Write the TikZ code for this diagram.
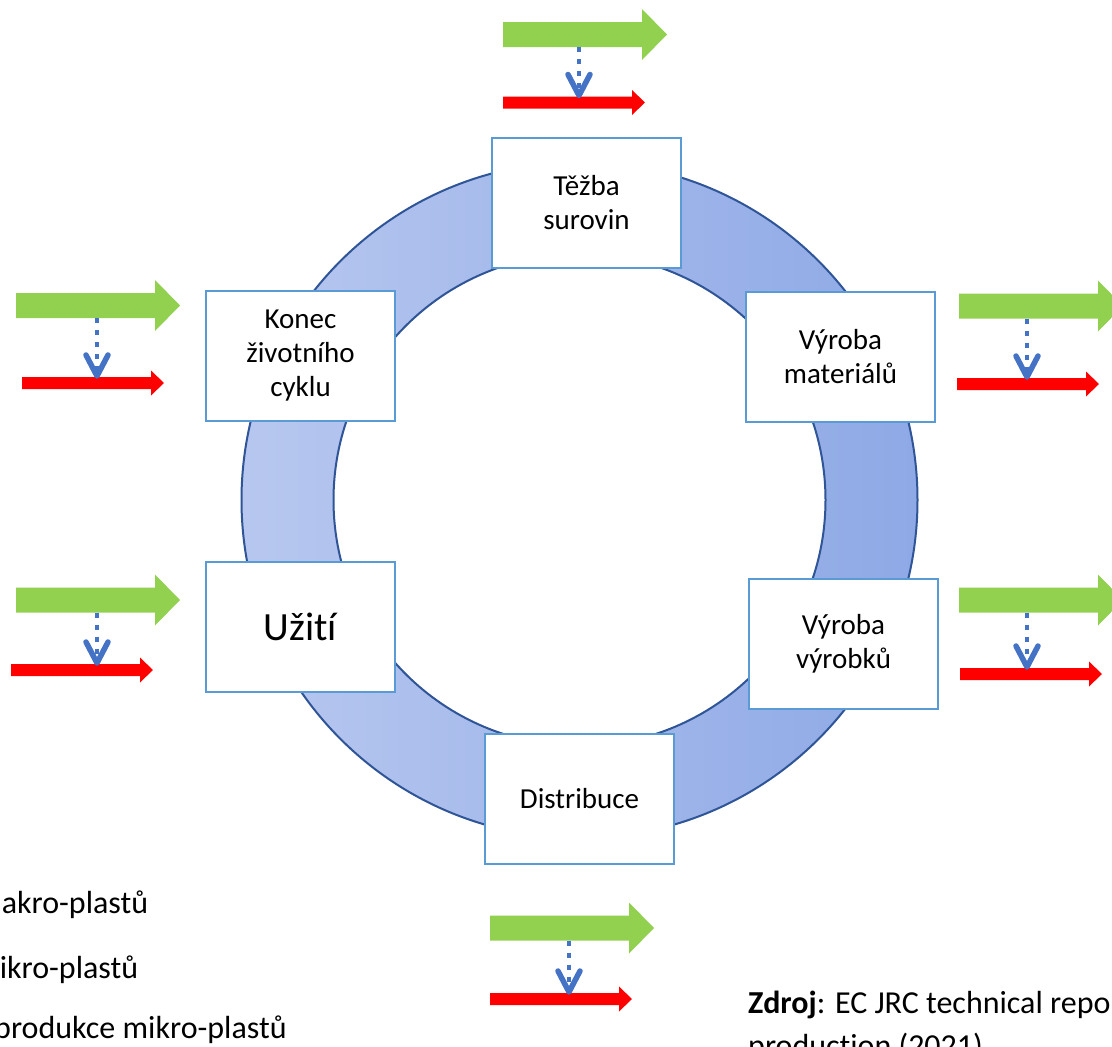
\documentclass[tikz,border=0pt]{standalone}
\usepackage{fontspec}
\setmainfont{Carlito}[Ligatures={NoCommon}]
\definecolor{ringL}{HTML}{B7C7EF}
\definecolor{ringR}{HTML}{8EA9E6}
\definecolor{ringB}{HTML}{2F5597}
\definecolor{boxB}{HTML}{5B9BD5}
\definecolor{grn}{HTML}{92D050}
\definecolor{rd}{HTML}{FF0000}
\definecolor{blu}{HTML}{4472C4}
\tikzset{
  stagebox/.style={draw=boxB, line width=2pt, fill=white, inner sep=0pt,
    minimum width=189pt, minimum height=130pt, align=center,
    font=\fontsize{29}{34}\selectfont},
  bluedot/.style={draw=blu, line width=4.5pt, dash pattern=on 5pt off 7pt},
  bluehead/.style={draw=blu, line width=5.5pt, line cap=round, line join=round},
  txt/.style={inner sep=0pt, anchor=base west, font=\fontsize{32}{38}\selectfont}
}
\newcommand\leakgroup[5]{%
  \fill[grn] (#1,#2-12.5) -- (#1+139,#2-12.5) -- (#1+139,#2-25.5) -- (#1+164,#2)
     -- (#1+139,#2+25.5) -- (#1+139,#2+12.5) -- (#1,#2+12.5) -- cycle;
  \fill[rd] (#3,#4-6) -- (#3+129,#4-6) -- (#3+129,#4-12.5) -- (#3+142,#4)
     -- (#3+129,#4+12.5) -- (#3+129,#4+6) -- (#3,#4+6) -- cycle;
  \draw[bluedot] (#5,#2+12.5) -- (#5,#4-12);
  \draw[bluehead] (#5-11,#4-28) -- (#5,#4-7) -- (#5+11,#4-28);
}
\begin{document}
\begin{tikzpicture}[x=1pt,y=-1pt]
\useasboundingbox (0,0) rectangle (1112,1047);
\fill[white] (0,0) rectangle (1112,1047);
\clip (0,0) rectangle (1112,1047);
% ring
\coordinate (c) at (579.5,500);
\shade[left color=ringL, right color=ringR, even odd rule]
  (c) circle (338pt) (c) circle (246pt);
\draw[ringB, line width=2pt] (c) circle (338pt);
\draw[ringB, line width=2pt] (c) circle (246pt);
% stages
\node[stagebox] (tezba)  at (586.5,203)   {Těžba\\surovin};
\node[stagebox] (konec)  at (300.5,356)   {Konec\\životního\\cyklu};
\node[stagebox] (vyrmat) at (840.5,356.5) {Výroba\\materiálů};
\node[stagebox, font=\fontsize{40}{46}\selectfont] (uziti) at (300.5,627) {Užití};
\node[stagebox] (vyrvyr) at (843.5,644)   {Výroba\\výrobků};
\node[stagebox] (distr)  at (579.5,798.5) {Distribuce};
% leak groups
\leakgroup{503}{34.5}{503}{102.5}{579}
\leakgroup{16}{305.5}{22}{383}{97}
\leakgroup{16}{600}{11}{670}{97}
\leakgroup{959}{306}{957}{384}{1027}
\leakgroup{959}{600}{960}{674}{1027}
\leakgroup{490}{928}{490}{999}{569}
% legend
\node[txt] (leg1) at (-24,913) {makro-plastů};
\node[txt] (leg2) at (-26,978) {mikro-plastů};
\node[txt] (leg3) at (-6,1038) {produkce mikro-plastů};
% source
\node[txt] (src1) at (748,1013) {\textbf{Zdroj}: EC JRC technical report};
\node[txt] (src2) at (748,1056) {production (2021)};
\end{tikzpicture}
\end{document}
